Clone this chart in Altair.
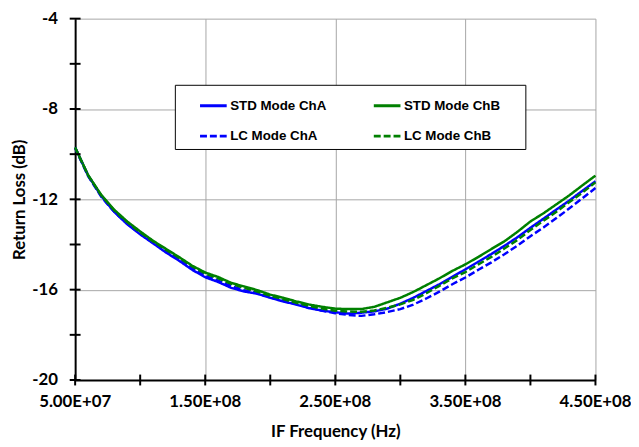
import altair as alt
import pandas as pd

# Frequencies (Hz)
freq_hz = [5.0e7, 6.0e7, 7.0e7, 8.0e7, 9.0e7, 1.0e8, 1.1e8, 1.2e8, 1.3e8, 1.4e8,
           1.5e8, 1.6e8, 1.7e8, 1.8e8, 1.9e8, 2.0e8, 2.1e8, 2.2e8, 2.3e8, 2.4e8,
           2.5e8, 2.6e8, 2.7e8, 2.8e8, 2.9e8, 3.0e8, 3.1e8, 3.2e8, 3.3e8, 3.4e8,
           3.5e8, 3.6e8, 3.7e8, 3.8e8, 3.9e8, 4.0e8, 4.1e8, 4.2e8, 4.3e8, 4.4e8,
           4.5e8]

std_cha = [-9.70, -10.95, -11.85, -12.55, -13.10, -13.55, -13.95, -14.36, -14.72, -15.12,
           -15.45, -15.66, -15.92, -16.08, -16.18, -16.36, -16.52, -16.66, -16.82, -16.93,
           -17.00, -17.06, -17.02, -16.96, -16.84, -16.62, -16.36, -16.06, -15.76, -15.43,
           -15.10, -14.76, -14.42, -14.06, -13.68, -13.26, -12.86, -12.45, -12.05, -11.62,
           -11.20]

std_chb = [-9.70, -10.93, -11.80, -12.46, -12.98, -13.42, -13.84, -14.20, -14.56, -14.94,
           -15.24, -15.44, -15.70, -15.86, -16.02, -16.22, -16.36, -16.52, -16.66, -16.76,
           -16.84, -16.86, -16.86, -16.76, -16.56, -16.36, -16.10, -15.80, -15.50, -15.17,
           -14.88, -14.55, -14.20, -13.86, -13.44, -12.98, -12.62, -12.22, -11.82, -11.38,
           -10.95]

lc_cha = [-9.74, -10.97, -11.88, -12.55, -13.08, -13.52, -13.93, -14.32, -14.68, -15.06,
          -15.38, -15.60, -15.84, -16.02, -16.16, -16.34, -16.50, -16.64, -16.80, -16.93,
          -17.04, -17.12, -17.16, -17.09, -16.99, -16.86, -16.66, -16.39, -16.09, -15.76,
          -15.46, -15.12, -14.79, -14.43, -14.05, -13.63, -13.25, -12.83, -12.40, -11.95,
          -11.50]

lc_chb = [-9.72, -10.94, -11.82, -12.49, -13.01, -13.46, -13.87, -14.24, -14.59, -14.97,
          -15.28, -15.50, -15.74, -15.92, -16.08, -16.27, -16.42, -16.58, -16.72, -16.84,
          -16.93, -16.97, -16.98, -16.92, -16.80, -16.65, -16.45, -16.16, -15.83, -15.50,
          -15.22, -14.88, -14.55, -14.18, -13.80, -13.36, -12.95, -12.55, -12.12, -11.70,
          -11.25]

series_names = ["STD Mode ChA", "STD Mode ChB", "LC Mode ChA", "LC Mode ChB"]
series_values = [std_cha, std_chb, lc_cha, lc_chb]
# legend fills column by column: ChA column first, then ChB column
legend_order = ["STD Mode ChA", "LC Mode ChA", "STD Mode ChB", "LC Mode ChB"]
legend_colors = ["#0000ff", "#0000ff", "#008000", "#008000"]
legend_dash = [[1, 0], [7, 3], [1, 0], [7, 3]]

x_label_values = [5.0e7, 1.5e8, 2.5e8, 3.5e8, 4.5e8]
x_label_text = ["5.00E+07", "1.50E+08", "2.50E+08", "3.50E+08", "4.50E+08"]
x_tick_values = [5.0e7, 1.0e8, 1.5e8, 2.0e8, 2.5e8, 3.0e8, 3.5e8, 4.0e8, 4.5e8]
y_label_values = [-20, -16, -12, -8, -4]
y_tick_values = [-20, -18, -16, -14, -12, -10, -8, -6, -4]

rows = []
for name, vals in zip(series_names, series_values):
    for f, v in zip(freq_hz, vals):
        rows.append({"freq": f, "rl": v, "series": name})
df = pd.DataFrame(rows)

PLOT_H = 366

x_scale = alt.Scale(domain=[5.0e7, 4.5e8], nice=False, zero=False)
y_scale = alt.Scale(domain=[-20, -4], nice=False, zero=False)

x_axis = alt.Axis(
    values=x_label_values,
    labels=False,
    title="IF Frequency (Hz)",
    ticks=False,
    domainColor="black", domainWidth=2,
    grid=True, gridColor="#a6a6a6", gridWidth=1,
    titleFont="Lato", titleFontSize=17, titleFontWeight="bold", titleColor="black",
    titlePadding=44,
)
y_axis = alt.Axis(
    values=y_label_values,
    labelExpr="datum.value + ''",
    title="Return Loss (dB)",
    ticks=False,
    domainColor="black", domainWidth=2,
    grid=True, gridColor="#a6a6a6", gridWidth=1,
    labelFont="Lato", labelFontSize=17, labelFontWeight="bold", labelColor="black",
    labelPadding=18, labelFlush=False, labelOverlap=False,
    titleFont="Lato", titleFontSize=17, titleFontWeight="bold", titleColor="black",
    titlePadding=3,
)

# trailing no-break spaces (kept by a zero-width space) widen the legend frame
legend = alt.Legend(
    title=None, orient="none", legendX=101, legendY=67, columns=2,
    symbolType="stroke", symbolSize=729, symbolStrokeWidth=3, symbolOffset=18,
    labelFont="Liberation Sans", labelFontSize=13.5, labelFontWeight="bold", labelColor="black",
    labelExpr="datum.label + '\u00a0\u00a0\u00a0\u00a0\u00a0\u200b'",
    labelOffset=2, rowPadding=9, columnPadding=9, padding=6, labelLimit=300,
    strokeColor="black", fillColor="white",
)

lines = alt.Chart(df).mark_line(strokeWidth=2.5).encode(
    x=alt.X("freq:Q", scale=x_scale, axis=x_axis),
    y=alt.Y("rl:Q", scale=y_scale, axis=y_axis),
    color=alt.Color("series:N", scale=alt.Scale(domain=legend_order, range=legend_colors), legend=legend),
    strokeDash=alt.StrokeDash("series:N", scale=alt.Scale(domain=legend_order, range=legend_dash), legend=legend),
    detail="series:N",
)

ytick_df = pd.DataFrame({"rl": y_tick_values})
xtick_df = pd.DataFrame({"freq": x_tick_values})
xlab_df = pd.DataFrame({"freq": x_label_values, "lab": x_label_text})

yticks = alt.Chart(ytick_df).mark_tick(orient="horizontal", color="black", size=11, thickness=2, opacity=1).encode(
    y=alt.Y("rl:Q", scale=y_scale, axis=y_axis),
    x=alt.value(0),
)
xticks = alt.Chart(xtick_df).mark_tick(orient="vertical", color="black", size=11, thickness=2, opacity=1).encode(
    x=alt.X("freq:Q", scale=x_scale, axis=x_axis),
    y=alt.value(PLOT_H),
)
xlabels = alt.Chart(xlab_df).mark_text(
    font="Lato", fontSize=17, fontWeight="bold", color="black",
    align="center", baseline="alphabetic",
).encode(
    x=alt.X("freq:Q", scale=x_scale, axis=x_axis),
    y=alt.value(PLOT_H + 27),
    text="lab:N",
)

chart = alt.layer(lines, yticks, xticks, xlabels).properties(
    width=527, height=PLOT_H,
    autosize=alt.AutoSizeParams(type="none"),
    padding={"left": 68, "top": 8, "right": 36, "bottom": 60},
    background="white",
).configure_view(stroke=None)

chart.save("out.html", embed_options={"renderer": "svg", "actions": False})
